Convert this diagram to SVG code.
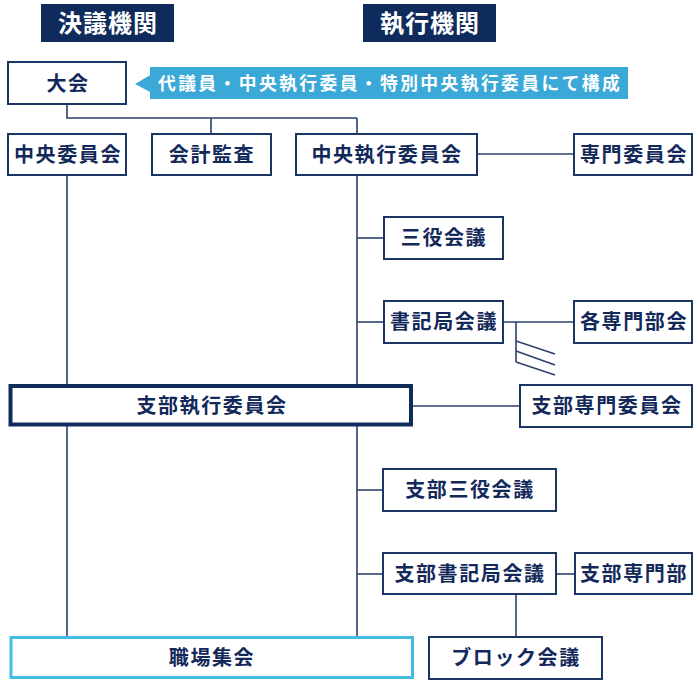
<svg xmlns="http://www.w3.org/2000/svg" width="700" height="700" viewBox="0 0 700 700">
<style>
  .hdr { fill: #0f2b5b; }
  .hdrt { fill: #ffffff; font-family: "Noto Sans CJK JP", "Noto Sans", sans-serif; font-weight: 700; font-size: 24px; letter-spacing: 1px; text-anchor: middle; }
  .box { fill: #ffffff; stroke: #1b3564; stroke-width: 2; }
  .thick { fill: #ffffff; stroke: #0f2b5b; stroke-width: 4; }
  .cyanbox { fill: #ffffff; stroke: #45bde2; stroke-width: 3; }
  .lbl { fill: #13295a; font-family: "Noto Sans CJK JP", "Noto Sans", sans-serif; font-weight: 700; font-size: 20px; letter-spacing: 1.6px; text-anchor: middle; }
  .ln { fill: none; stroke: #2a416c; stroke-width: 1.6; }
  .call { fill: #3aa9d7; }
  .callt { fill: #ffffff; font-family: "Noto Sans CJK JP", "Noto Sans", sans-serif; font-weight: 700; font-size: 17.8px; letter-spacing: 2.4px; }
</style>
<rect width="700" height="700" fill="#ffffff"/>

<g id="header-kettei">
  <rect class="hdr" x="41" y="4" width="133" height="38"/>
  <text class="hdrt" x="108" y="32">決議機関</text>
</g>
<g id="header-shikkou">
  <rect class="hdr" x="363" y="4" width="133" height="38"/>
  <text class="hdrt" x="430" y="32">執行機関</text>
</g>

<g id="connectors">
  <polyline class="ln" points="67,104 67,118 357,118"/>
  <line class="ln" x1="211" y1="118" x2="211" y2="134"/>
  <line class="ln" x1="357" y1="118" x2="357" y2="134"/>
  <line class="ln" x1="477" y1="154" x2="574" y2="154"/>
  <line class="ln" x1="67" y1="175" x2="67" y2="386"/>
  <line class="ln" x1="67" y1="425" x2="67" y2="637"/>
  <line class="ln" x1="357" y1="175" x2="357" y2="386"/>
  <line class="ln" x1="357" y1="425" x2="357" y2="637"/>
  <line class="ln" x1="357" y1="238" x2="384" y2="238"/>
  <line class="ln" x1="357" y1="322" x2="384" y2="322"/>
  <line class="ln" x1="503" y1="322" x2="574" y2="322"/>
  <line class="ln" x1="516" y1="322" x2="516" y2="362"/>
  <line class="ln" x1="516" y1="341" x2="555" y2="354"/>
  <line class="ln" x1="516" y1="351" x2="555" y2="365"/>
  <line class="ln" x1="516" y1="362" x2="555" y2="375"/>
  <line class="ln" x1="413" y1="406" x2="520" y2="406"/>
  <line class="ln" x1="357" y1="490" x2="383" y2="490"/>
  <line class="ln" x1="357" y1="574" x2="383" y2="574"/>
  <line class="ln" x1="556" y1="574" x2="575" y2="574"/>
  <line class="ln" x1="516" y1="594" x2="516" y2="637"/>
</g>

<g id="taikai">
  <rect class="box" x="8" y="62" width="118" height="42"/>
  <text class="lbl" x="68" y="91">大会</text>
</g>
<g id="callout">
  <polygon class="call" points="135,84 152,74 152,93"/>
  <rect class="call" x="150" y="67" width="478" height="32"/>
  <text class="callt" x="158" y="89.5">代議員・中央執行委員・特別中央執行委員にて構成</text>
</g>

<g id="chuo-iinkai">
  <rect class="box" x="8" y="134" width="118" height="41"/>
  <text class="lbl" x="68" y="162">中央委員会</text>
</g>
<g id="kaikei-kansa">
  <rect class="box" x="152" y="134" width="119" height="41"/>
  <text class="lbl" x="212" y="162">会計監査</text>
</g>
<g id="chuo-shikkou">
  <rect class="box" x="296" y="134" width="181" height="41"/>
  <text class="lbl" x="387" y="162">中央執行委員会</text>
</g>
<g id="senmon-iinkai">
  <rect class="box" x="574" y="134" width="118" height="41"/>
  <text class="lbl" x="634" y="162">専門委員会</text>
</g>

<g id="sanyaku">
  <rect class="box" x="384" y="217" width="119" height="42"/>
  <text class="lbl" x="444" y="245">三役会議</text>
</g>
<g id="shokikyoku">
  <rect class="box" x="384" y="301" width="119" height="42"/>
  <text class="lbl" x="444" y="329">書記局会議</text>
</g>
<g id="kaku-senmonbukai">
  <rect class="box" x="574" y="301" width="118" height="42"/>
  <text class="lbl" x="634" y="329">各専門部会</text>
</g>

<g id="shibu-shikkou">
  <rect class="thick" x="10.5" y="386" width="400.5" height="38.5"/>
  <text class="lbl" x="212" y="413">支部執行委員会</text>
</g>
<g id="shibu-senmon-iinkai">
  <rect class="box" x="520" y="385" width="172" height="42"/>
  <text class="lbl" x="607" y="413">支部専門委員会</text>
</g>

<g id="shibu-sanyaku">
  <rect class="box" x="383" y="469" width="173" height="42"/>
  <text class="lbl" x="470" y="497">支部三役会議</text>
</g>
<g id="shibu-shokikyoku">
  <rect class="box" x="383" y="553" width="173" height="41"/>
  <text class="lbl" x="470" y="581">支部書記局会議</text>
</g>
<g id="shibu-senmonbu">
  <rect class="box" x="575" y="553" width="117" height="41"/>
  <text class="lbl" x="634" y="581">支部専門部</text>
</g>

<g id="shokuba">
  <rect class="cyanbox" x="11" y="637.5" width="401.5" height="40"/>
  <text class="lbl" x="212" y="665">職場集会</text>
</g>
<g id="block">
  <rect class="box" x="429" y="637" width="173" height="42"/>
  <text class="lbl" x="516" y="665">ブロック会議</text>
</g>
</svg>
